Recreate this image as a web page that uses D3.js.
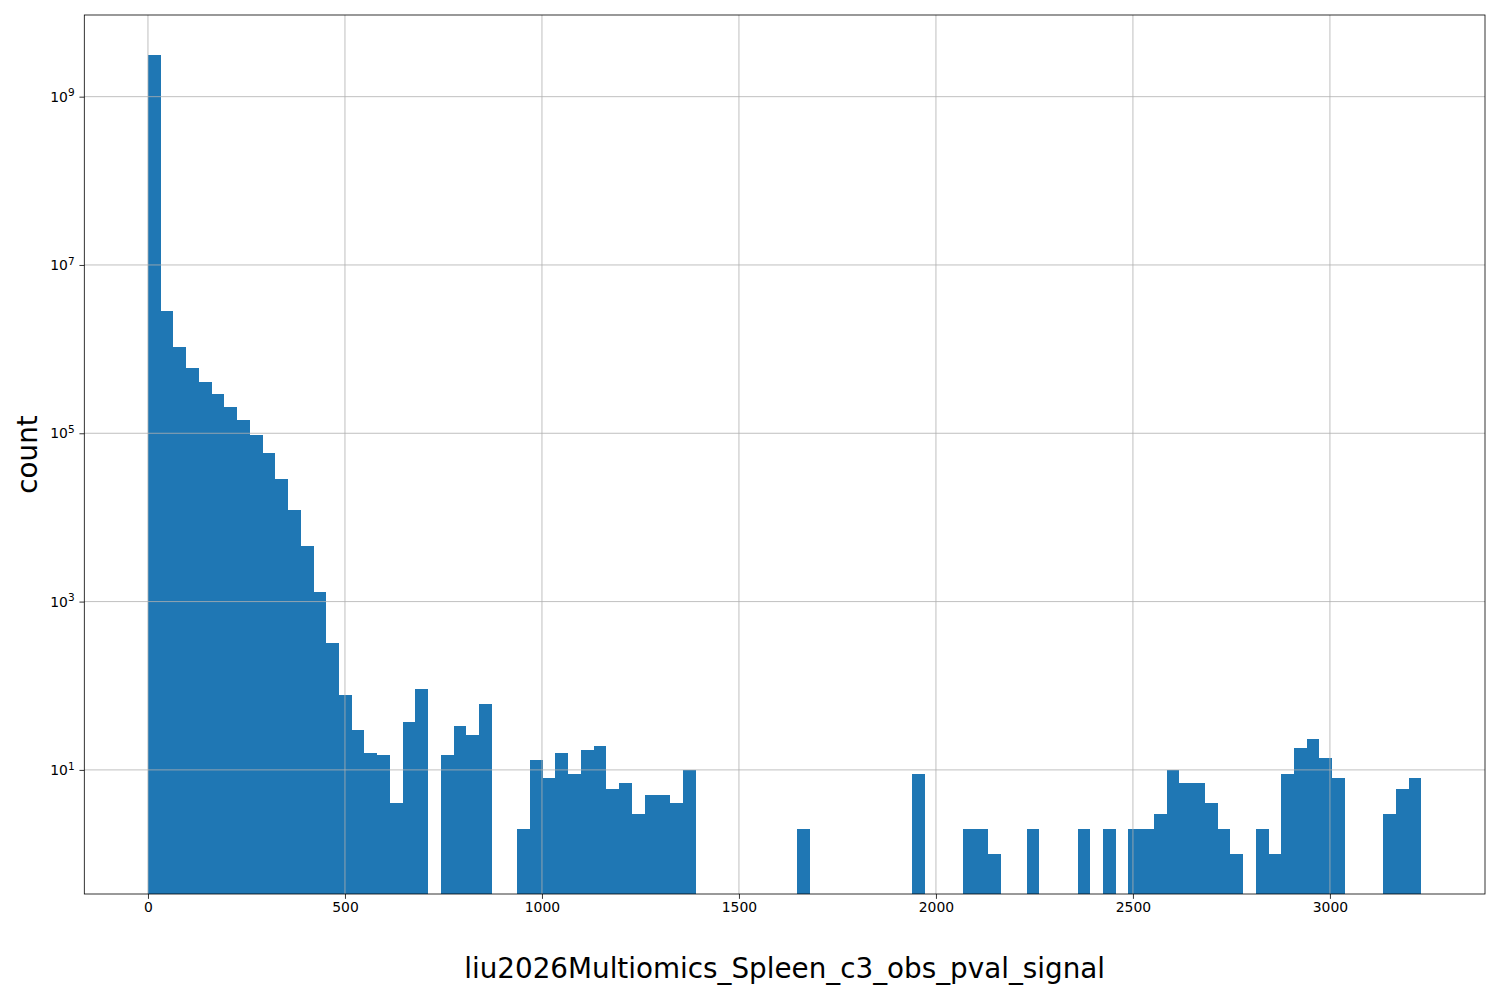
<!DOCTYPE html>
<html>
<head>
<meta charset="utf-8">
<script src="https://cdn.jsdelivr.net/npm/d3@7"></script>
<style>
  html, body { margin: 0; padding: 0; background: #fff; }
  svg { display: block; font-family: "DejaVu Sans", sans-serif; }
</style>
</head>
<body>
<svg id="chart" width="1500" height="1000"></svg>
<script>
// ---- data ----
const xMin = 0;
const xMax = 3232;
const nBins = 100;
const counts = [
  3130000000, 2840000, 1060000, 597000, 407000, 293000, 206000, 144000, 95000, 58000,
  28600, 12300, 4600, 1310, 325, 78, 30, 16, 15, 4,
  37, 92, 0, 15, 33, 26, 61, 0, 0, 2,
  13, 8, 16, 9, 17, 19, 6, 7, 3, 5,
  5, 4, 10, 0, 0, 0, 0, 0, 0, 0,
  0, 2, 0, 0, 0, 0, 0, 0, 0, 0,
  9, 0, 0, 0, 2, 2, 1, 0, 0, 2,
  0, 0, 0, 2, 0, 2, 0, 2, 2, 3,
  10, 7, 7, 4, 2, 1, 0, 2, 1, 9,
  18, 23, 14, 8, 0, 0, 0, 3, 6, 8
];
const xTicks = [0, 500, 1000, 1500, 2000, 2500, 3000];
const yTickExps = [1, 3, 5, 7, 9];
const xLabel = "liu2026Multiomics_Spleen_c3_obs_pval_signal";
const yLabel = "count";

// ---- layout ----
const pL = 84.3, pR = 1485, pT = 15, pB = 894;
const svg = d3.select("#chart");
const binW = (xMax - xMin) / nBins;
const bins = counts.map((c, i) => ({x0: xMin + i * binW, x1: xMin + (i + 1) * binW, c}));

const xpad = 0.05 * (xMax - xMin);
const x = d3.scaleLinear().domain([xMin - xpad, xMax + xpad]).range([pL, pR]);

const lmin = Math.log10(d3.min(counts.filter(c => c > 0)));
const lmax = Math.log10(d3.max(counts));
const lpad = 0.05 * (lmax - lmin);
const y = d3.scaleLog().domain([Math.pow(10, lmin - lpad), Math.pow(10, lmax + lpad)]).range([pB, pT]);

// bars
svg.append("g").attr("shape-rendering", "crispEdges").selectAll("rect")
  .data(bins.filter(b => b.c > 0))
  .join("rect")
  .attr("x", d => x(d.x0))
  .attr("width", d => x(d.x1) - x(d.x0))
  .attr("y", d => y(d.c))
  .attr("height", d => pB - y(d.c))
  .attr("fill", "#1f77b4");

// grid (above bars, as matplotlib)
const grid = svg.append("g").attr("stroke", "#b0b0b0").attr("stroke-width", 0.8);
xTicks.forEach(t => grid.append("line").attr("x1", x(t)).attr("x2", x(t)).attr("y1", pT).attr("y2", pB));
yTickExps.forEach(e => grid.append("line").attr("x1", pL).attr("x2", pR).attr("y1", y(Math.pow(10, e))).attr("y2", y(Math.pow(10, e))));

// axes
const xAxis = d3.axisBottom(x).tickValues(xTicks).tickSize(4.86).tickPadding(3.5).tickFormat(d3.format("d"));
const gx = svg.append("g").attr("transform", `translate(0,${pB})`).call(xAxis);
gx.select(".domain").remove();
gx.selectAll("line").attr("stroke", "#000").attr("stroke-width", 0.8);
gx.selectAll("text").attr("font-size", 13.9).attr("fill", "#000").attr("font-family", "DejaVu Sans");

const yAxis = d3.axisLeft(y).tickValues(yTickExps.map(e => Math.pow(10, e))).tickSize(4.86).tickPadding(4.86).tickFormat("");
const gy = svg.append("g").attr("transform", `translate(${pL},0)`).call(yAxis);
gy.select(".domain").remove();
gy.selectAll("line").attr("stroke", "#000").attr("stroke-width", 0.8);
gy.selectAll(".tick").each(function(d) {
  const t = d3.select(this).select("text")
    .attr("x", -9.7).attr("dy", "0.32em").attr("font-size", 13.9).attr("fill", "#000")
    .attr("text-anchor", "end").attr("font-family", "DejaVu Sans");
  const e = Math.round(Math.log10(d));
  t.text(null);
  t.append("tspan").text("10");
  t.append("tspan").attr("font-size", 10.5).attr("dy", "-0.5em").text(String(e));
});

// spines
svg.append("rect").attr("x", pL).attr("y", pT).attr("width", pR - pL).attr("height", pB - pT)
  .attr("fill", "none").attr("stroke", "#000").attr("stroke-width", 0.8);

// labels
svg.append("text").attr("x", (pL + pR) / 2).attr("y", 978)
  .attr("text-anchor", "middle").attr("font-size", 27.8).attr("fill", "#000").text(xLabel);
svg.append("text").attr("transform", `translate(37,${(pT + pB) / 2}) rotate(-90)`)
  .attr("text-anchor", "middle").attr("font-size", 27.8).attr("fill", "#000").text(yLabel);
</script>
</body>
</html>
